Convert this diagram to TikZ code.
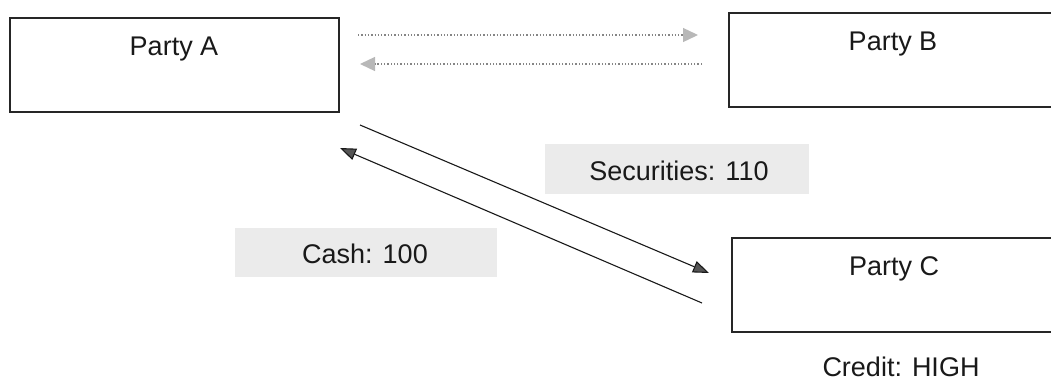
\documentclass[tikz,border=0pt]{standalone}
\usepackage{fontspec}
\setmainfont{Liberation Sans}
\usetikzlibrary{arrows.meta}
\definecolor{lblfill}{HTML}{EBEBEB}
\definecolor{headdark}{HTML}{555555}
\definecolor{dotgray}{HTML}{858585}
\definecolor{headlight}{HTML}{B8B8B8}
\tikzset{
  partybox/.style={draw=black!85, line width=1.3pt, rectangle, minimum height=94pt, inner sep=0pt},
  bigtxt/.style={font=\fontsize{27}{32}\selectfont, text=black!90, inner sep=0pt, anchor=base},
  lblbox/.style={fill=lblfill, rectangle, inner sep=0pt},
  flow/.style={draw=black!90, line width=1.1pt, -{Triangle[length=16pt,width=12pt,fill=headdark]}},
  dotflow/.style={draw=dotgray, line width=1.3pt, dotted, -{Triangle[length=15pt,width=14pt,fill=headlight,color=headlight]}}
}
\begin{document}
\begin{tikzpicture}[x=1pt,y=-1pt]
\useasboundingbox (0,0) rectangle (1051,383);
\clip (0,0) rectangle (1051,383);
% boxes
\node[partybox, minimum width=329pt] (A) at (174.5,65) {};
\node[partybox, minimum width=341pt] (B) at (899.5,60) {};
\node[partybox, minimum width=338pt] (C) at (901,285) {};
\node[bigtxt] (At) at (174,55) {Party A};
\node[bigtxt] (Bt) at (893,50) {Party B};
\node[bigtxt] (Ct) at (894,275) {Party C};
\node[bigtxt] (cr) at (901,376) {Credit: HIGH};
% label boxes
\node[lblbox, minimum width=264pt, minimum height=50pt] (secbox) at (677,169) {};
\node[bigtxt] (sec) at (679,180) {Securities: 110};
\node[lblbox, minimum width=262pt, minimum height=49pt] (cashbox) at (366,252.5) {};
\node[bigtxt] (cash) at (365,263) {Cash: 100};
% connector end points
\coordinate (d1s) at (358,35);
\coordinate (d1e) at (698,35);
\coordinate (d2s) at (702,64);
\coordinate (d2e) at (360,64);
\coordinate (s1s) at (360,125);
\coordinate (s1e) at (709,273);
\coordinate (s2s) at (702,303);
\coordinate (s2e) at (340,148);
\draw[dotflow] (d1s) -- (d1e);
\draw[dotflow] (d2s) -- (d2e);
\draw[flow] (s1s) -- (s1e);
\draw[flow] (s2s) -- (s2e);
\end{tikzpicture}
\end{document}
